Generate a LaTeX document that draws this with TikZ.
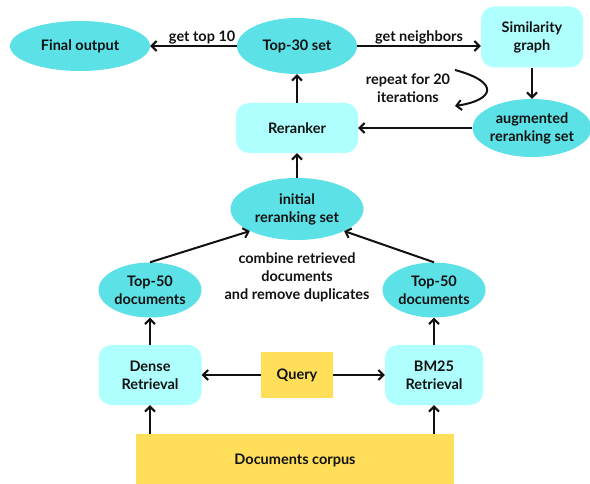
\documentclass[tikz,border=0pt]{standalone}
\usepackage{fontspec}
\setmainfont{Lato}
\usetikzlibrary{arrows.meta,shapes.geometric}
\definecolor{teal}{HTML}{5CE1E6}
\definecolor{lcyan}{HTML}{B0FFFF}
\definecolor{yel}{HTML}{FFDE59}
\definecolor{ink}{HTML}{111111}
\begin{document}
\begin{tikzpicture}[x=1pt,y=-1pt,
  font=\bfseries\fontsize{14.5}{18}\selectfont, text=ink,
  ell/.style={ellipse, fill=teal, inner sep=0pt, align=center},
  rbox/.style={rectangle, rounded corners=13pt, fill=lcyan, inner sep=0pt, align=center},
  ybox/.style={rectangle, fill=yel, inner sep=0pt, align=center},
  conn/.style={draw=ink, line width=2pt, -{Straight Barb[length=5pt,width=10pt,line width=2pt]}},
  lbl/.style={align=center, inner sep=1pt}]
\useasboundingbox (0,0) rectangle (590,484);
\node[ell, minimum width=140pt, minimum height=50pt] (final) at (80,46) {Final output};
\node[ell, minimum width=120pt, minimum height=56pt] (top30) at (297,46) {Top-30 set};
\node[rbox, minimum width=102pt, minimum height=61pt] (sim) at (532,37) {Similarity\\graph};
\node[ell, minimum width=117pt, minimum height=58pt] (aug) at (532,128) {augmented\\reranking set};
\node[rbox, minimum width=122pt, minimum height=50pt] (rer) at (297,128) {Reranker};
\node[ell, minimum width=133pt, minimum height=62pt] (init) at (297,209) {initial\\reranking set};
\node[ell, minimum width=103pt, minimum height=55pt] (t50l) at (150,290) {Top-50\\documents};
\node[ell, minimum width=103pt, minimum height=55pt] (t50r) at (434,290) {Top-50\\documents};
\node[rbox, minimum width=103pt, minimum height=60pt] (dense) at (150,375) {Dense\\Retrieval};
\node[rbox, minimum width=98pt, minimum height=60pt] (bm25) at (434,375) {BM25\\Retrieval};
\node[ybox, minimum width=72pt, minimum height=46pt] (query) at (297,375) {Query};
\node[ybox, minimum width=318pt, minimum height=52pt] (corpus) at (295,460) {Documents corpus};
\node[lbl] (combine) at (297,277) {combine retrieved\\documents\\and remove duplicates};
\node[lbl] (repeat) at (408,88) {repeat for 20\\iterations};

\draw[conn] (top30) -- node[above, lbl, pos=0.4] {get top 10} (final);
\draw[conn] (top30.east) -- node[above, lbl] {get neighbors} (sim.west |- top30.east);
\draw[conn] (sim.south) -- (aug.north);
\draw[conn] (aug) -- (rer);
\draw[conn] (rer) -- (top30);
\draw[conn] (init) -- (rer);
\draw[conn] (t50l.north) -- (init.south west);
\draw[conn] (t50r.north) -- (init.south east);
\draw[conn] (dense) -- (t50l);
\draw[conn] (bm25) -- (t50r);
\draw[conn] (query) -- (dense);
\draw[conn] (query) -- (bm25);
\coordinate (cl) at (150,434);
\coordinate (cr) at (434,434);
\draw[conn] (cl) -- (dense);
\draw[conn] (cr) -- (bm25);
\coordinate (ra) at (455,70);
\coordinate (rb) at (455,106);
\draw[conn] (ra) .. controls (500,82) and (495,100) .. (rb);
\end{tikzpicture}
\end{document}
